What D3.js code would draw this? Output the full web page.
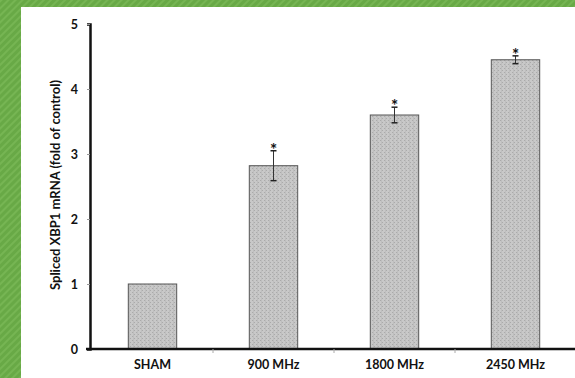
<!DOCTYPE html>
<html>
<head>
<meta charset="utf-8">
<script src="https://cdn.jsdelivr.net/npm/d3@7"></script>
<style>
  body { margin: 0; padding: 0; background: #fff; }
  svg { display: block; }
  text { font-family: Lato, "Open Sans", sans-serif; font-weight: bold; fill: #111; }
</style>
</head>
<body>
<svg id="chart"></svg>
<script>
// data
const groups = ['SHAM', '900 MHz', '1800 MHz', '2450 MHz'];
const means = [1.0, 2.82, 3.6, 4.45];
const errors = [0.0, 0.23, 0.12, 0.06];
const starred = [false, true, true, true];
const yTicks = [0, 1, 2, 3, 4, 5];

const W = 575, H = 378;
const margin = {left: 90, right: 1, top: 24, bottom: 29};

let svg = d3.select('#chart').attr('width', W).attr('height', H);
let defs = svg.append('defs');

// green striped frame
let greenPat = defs.append('pattern')
  .attr('id', 'greenStripes')
  .attr('patternUnits', 'userSpaceOnUse')
  .attr('width', 5).attr('height', 5)
  .attr('patternTransform', 'rotate(45)');
greenPat.append('rect').attr('width', 5).attr('height', 5).attr('fill', '#68a946');
greenPat.append('rect').attr('width', 2).attr('height', 5).attr('fill', '#76b553');

// dotted grey fill for the bars
let barPat = defs.append('pattern')
  .attr('id', 'barDots')
  .attr('patternUnits', 'userSpaceOnUse')
  .attr('width', 4).attr('height', 4);
barPat.append('rect').attr('width', 4).attr('height', 4).attr('fill', '#c8c8c8');
barPat.append('rect').attr('x', 0).attr('y', 0).attr('width', 1).attr('height', 1).attr('fill', '#aaaaaa');
barPat.append('rect').attr('x', 2).attr('y', 2).attr('width', 1).attr('height', 1).attr('fill', '#aaaaaa');
barPat.append('rect').attr('x', 1).attr('y', 0).attr('width', 1).attr('height', 4).attr('fill', '#bebebe');

svg.append('rect').attr('width', W).attr('height', H).attr('fill', 'url(#greenStripes)');
svg.append('rect').attr('x', 21).attr('y', 7).attr('width', W - 21).attr('height', H - 7).attr('fill', '#fff');

const x = d3.scaleBand()
  .domain(groups)
  .range([margin.left + 2, W - margin.right + 2])
  .paddingInner(0.6)
  .paddingOuter(0.3);

const y = d3.scaleLinear()
  .domain([0, 5])
  .range([H - margin.bottom, margin.top]);

let chart = svg.append('g');

// bars
chart.selectAll('.bar')
  .data(groups)
  .enter()
  .append('rect')
    .attr('class', 'bar')
    .attr('x', d => x(d))
    .attr('y', (d, i) => y(means[i]))
    .attr('width', x.bandwidth())
    .attr('height', (d, i) => y(0) - y(means[i]))
    .attr('fill', 'url(#barDots)')
    .attr('stroke', '#555')
    .attr('stroke-width', 1);

// error bars
let err = chart.selectAll('.err')
  .data(groups.filter((d, i) => errors[i] > 0))
  .enter()
  .append('g')
    .attr('class', 'err');
err.append('line')
  .attr('x1', d => x(d) + x.bandwidth() / 2)
  .attr('x2', d => x(d) + x.bandwidth() / 2)
  .attr('y1', d => y(means[groups.indexOf(d)] + errors[groups.indexOf(d)]))
  .attr('y2', d => y(means[groups.indexOf(d)] - errors[groups.indexOf(d)]))
  .attr('stroke', '#333').attr('stroke-width', 1);
[1, -1].forEach(s => {
  err.append('line')
    .attr('x1', d => x(d) + x.bandwidth() / 2 - 3)
    .attr('x2', d => x(d) + x.bandwidth() / 2 + 3)
    .attr('y1', d => y(means[groups.indexOf(d)] + s * errors[groups.indexOf(d)]))
    .attr('y2', d => y(means[groups.indexOf(d)] + s * errors[groups.indexOf(d)]))
    .attr('stroke', '#222').attr('stroke-width', 1.5);
});

// significance stars
chart.selectAll('.star')
  .data(groups.filter((d, i) => starred[i]))
  .enter()
  .append('text')
    .attr('class', 'star')
    .attr('x', d => x(d) + x.bandwidth() / 2)
    .attr('y', d => y(means[groups.indexOf(d)] + errors[groups.indexOf(d)]) + 5)
    .attr('text-anchor', 'middle')
    .style('font-size', '17px')
    .attr('fill', '#333')
    .text('*');

// y axis
let yAxis = svg.append('g')
  .attr('transform', 'translate(' + margin.left + ',0)')
  .call(d3.axisLeft(y).tickValues(yTicks).tickSize(3).tickPadding(9).tickFormat(d3.format('d')));
yAxis.select('.domain').attr('stroke', '#111').attr('stroke-width', 2.5);
yAxis.selectAll('.tick line').attr('stroke', '#999');
yAxis.selectAll('text').style('font-size', '12.5px').style('font-family', 'Lato, sans-serif').attr('fill', '#111');

// x axis: ticks sit between categories
let xAxis = svg.append('g')
  .attr('transform', 'translate(0,' + y(0) + ')');
xAxis.append('line')
  .attr('x1', margin.left - 4).attr('x2', W)
  .attr('stroke', '#111').attr('stroke-width', 2.5);
xAxis.selectAll('.sep')
  .data(groups.slice(1))
  .enter()
  .append('line')
    .attr('x1', d => x(d) - x.step() * x.paddingInner() / 2)
    .attr('x2', d => x(d) - x.step() * x.paddingInner() / 2)
    .attr('y1', 0).attr('y2', 4)
    .attr('stroke', '#aaa');
xAxis.selectAll('.lab')
  .data(groups)
  .enter()
  .append('text')
    .attr('x', d => x(d) + x.bandwidth() / 2)
    .attr('y', 20)
    .attr('text-anchor', 'middle')
    .style('font-size', '12.5px')
    .text(d => d);

// y axis title
svg.append('text')
  .attr('transform', 'translate(60,' + 185 + ') rotate(-90)')
  .attr('text-anchor', 'middle')
  .style('font-size', '13px')
  .text('Spliced XBP1 mRNA (fold of control)');
</script>
</body>
</html>
